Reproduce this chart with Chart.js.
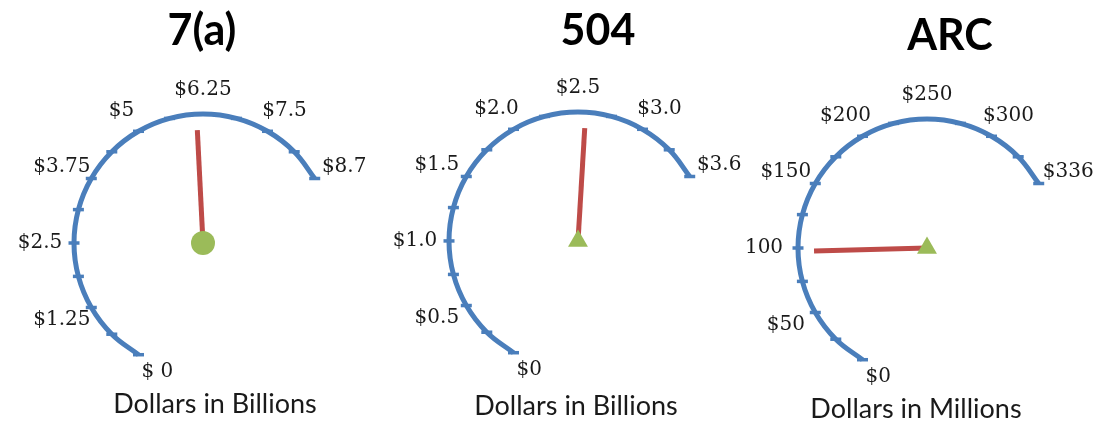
<!DOCTYPE html>
<html lang="en">
<head>
  <meta charset="UTF-8">
  <title>Loan Gauges</title>
  <script src="https://cdn.jsdelivr.net/npm/chart.js@4.4.1/dist/chart.umd.min.js"></script>
  <style>
    body { margin: 0; background: #ffffff; overflow: hidden; }
    #wrap { position: relative; width: 1094px; height: 421px; }
    .gauge { position: absolute; top: 0; height: 421px; }
  </style>
</head>
<body>
  <div id="wrap">
    <div class="gauge" style="left:0px;width:374px;"><canvas id="g7a"></canvas></div>
    <div class="gauge" style="left:374px;width:372px;"><canvas id="g504"></canvas></div>
    <div class="gauge" style="left:740px;width:354px;"><canvas id="garc"></canvas></div>
  </div>

  <script>
    // values
    var titles = ['7(a)', '504', 'ARC'];
    var units = ['Dollars in Billions', 'Dollars in Billions', 'Dollars in Millions'];

    // value at each dash on the dial
    var ticks7a = [0, 0.625, 1.25, 1.875, 2.5, 3.125, 3.75, 4.375, 5, 5.625, 6.25, 6.875, 7.5, 8.125, 8.75];
    var ticks504 = [0, 0.257, 0.514, 0.771, 1.029, 1.286, 1.543, 1.8, 2.057, 2.314, 2.571, 2.829, 3.086, 3.343, 3.6];
    var ticksArc = [0, 24, 48, 72, 96, 120, 144, 168, 192, 216, 240, 264, 288, 312, 336];

    // text on every second dash
    var labels7a = ['$ 0', '$1.25', '$2.5', '$3.75', '$5', '$6.25', '$7.5', '$8.7'];
    var labels504 = ['$0', '$0.5', '$1.0', '$1.5', '$2.0', '$2.5', '$3.0', '$3.6'];
    var labelsArc = ['$0', '$50', '100', '$150', '$200', '$250', '$300', '$336'];

    // needle readings
    var needle7a = 6.13;
    var needle504 = 2.63;
    var needleArc = 93.5;

    // dial geometry (pixels / degrees)
    var START = 240, SWEEP = 210, RADIUS = 129, NEEDLE = 113;
    var LABEL_RX = 163, LABEL_RY = 153;
    var BLUE = '#4a7ebb', RED = '#be4b48', GREEN = '#9bbb59';

    // where each gauge sits on the page
    var gauges = [
      { id: 'g7a', title: titles[0], unit: units[0], ticks: ticks7a, labels: labels7a, needle: needle7a, hub: 'circle', hubSize: 12,
        left: 0, width: 374, cx: 203, cy: 243, titleX: 202, titleY: 45, unitX: 215, unitY: 413 },
      { id: 'g504', title: titles[1], unit: units[1], ticks: ticks504, labels: labels504, needle: needle504, hub: 'triangle', hubSize: 11.5,
        left: 374, width: 372, cx: 578, cy: 241, titleX: 598, titleY: 45, unitX: 576, unitY: 415 },
      { id: 'garc', title: titles[2], unit: units[2], ticks: ticksArc, labels: labelsArc, needle: needleArc, hub: 'triangle', hubSize: 11.5,
        left: 740, width: 354, cx: 927, cy: 248, titleX: 950, titleY: 50, unitX: 916, unitY: 418 }
    ];

    function polar(v, max, rx, ry) {
      var a = (START - SWEEP * v / max) * Math.PI / 180;
      return { x: rx * Math.cos(a), y: (ry || rx) * Math.sin(a) };
    }

    // tick labels, title and unit caption
    var gaugeText = {
      id: 'gaugeText',
      afterDatasetsDraw: function(chart, args, opts) {
        var g = opts.gauge;
        var ctx = chart.ctx, xs = chart.scales.x, ys = chart.scales.y;
        var max = g.ticks[g.ticks.length - 1];
        ctx.save();
        ctx.fillStyle = '#1a1a1a';
        ctx.font = '20px "DejaVu Serif"';
        ctx.textBaseline = 'middle';
        g.labels.forEach(function(txt, j) {
          var v = g.ticks[j * 2];
          var p;
          if (j === 0) {
            // first label sits just below the start of the dial
            p = polar(v, max, RADIUS);
            ctx.textAlign = 'left';
            ctx.fillText(txt, xs.getPixelForValue(p.x) + 3, ys.getPixelForValue(p.y) + 17);
          } else {
            p = polar(v, max, LABEL_RX, LABEL_RY);
            ctx.textAlign = 'center';
            ctx.fillText(txt, xs.getPixelForValue(p.x), ys.getPixelForValue(p.y));
          }
        });
        ctx.textAlign = 'center';
        ctx.textBaseline = 'alphabetic';
        ctx.fillStyle = '#000000';
        ctx.font = 'bold 43px Lato';
        ctx.fillText(g.title, g.titleX - g.left, g.titleY);
        ctx.fillStyle = '#1a1a1a';
        ctx.font = '27px Lato';
        ctx.fillText(g.unit, g.unitX - g.left, g.unitY);
        ctx.restore();
      }
    };

    gauges.forEach(function(g) {
      var max = g.ticks[g.ticks.length - 1];
      new Chart(document.getElementById(g.id), {
        type: 'scatter',
        data: {
          datasets: [
            {
              // hub on top
              data: [{ x: 0, y: 0 }],
              pointStyle: g.hub,
              pointRadius: g.hubSize,
              backgroundColor: GREEN,
              borderWidth: 0
            },
            {
              data: [{ x: 0, y: 0 }, polar(g.needle, max, NEEDLE)],
              showLine: true,
              borderColor: RED,
              borderWidth: 5,
              pointRadius: 0
            },
            {
              data: g.ticks.map(function(v) { return polar(v, max, RADIUS); }),
              showLine: true,
              tension: 0.4,
              borderColor: BLUE,
              borderWidth: 5,
              pointStyle: 'line',
              pointRadius: 5.5,
              pointBorderWidth: 3.5,
              pointBorderColor: BLUE
            }
          ]
        },
        options: {
          responsive: true,
          maintainAspectRatio: false,
          animation: false,
          events: [],
          layout: { padding: 0, autoPadding: false },
          scales: {
            x: { type: 'linear', display: false, min: -(g.cx - g.left), max: g.left + g.width - g.cx },
            y: { type: 'linear', display: false, min: -(421 - g.cy), max: g.cy }
          },
          plugins: {
            legend: { display: false },
            tooltip: { enabled: false },
            gaugeText: { gauge: g }
          }
        },
        plugins: [gaugeText]
      });
    });
  </script>
</body>
</html>
